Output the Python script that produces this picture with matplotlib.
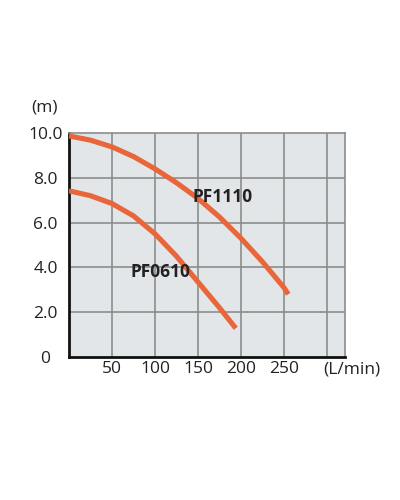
import matplotlib
matplotlib.use("Agg")
import matplotlib.pyplot as plt

pf1110_x = [0, 25, 50, 75, 100, 125, 150, 175, 200, 225, 250, 255]
pf1110_y = [9.87, 9.68, 9.38, 8.95, 8.4, 7.78, 7.08, 6.25, 5.3, 4.25, 3.1, 2.8]
pf0610_x = [0, 25, 50, 75, 100, 125, 150, 175, 194]
pf0610_y = [7.42, 7.2, 6.85, 6.3, 5.5, 4.5, 3.35, 2.2, 1.28]
x_ticks = [50, 100, 150, 200, 250]
x_grid = [50, 100, 150, 200, 250, 300]
y_ticks = [0, 2, 4, 6, 8, 10]
y_labels = ["0", "2.0", "4.0", "6.0", "8.0", "10.0"]

plt.rcParams['font.family'] = ['Open Sans', 'DejaVu Sans']

fig = plt.figure(figsize=(4, 5), dpi=100)
ax = fig.add_axes([69/400, 1-357/500, 276/400, 224/500])
ax.set_facecolor('#e3e6e8')
ax.set_xlim(0, 321)
ax.set_ylim(0, 10)

for gx in x_grid:
    ax.axvline(gx, color='#8c8c8c', lw=1.2, zorder=1)
for gy in y_ticks[1:-1]:
    ax.axhline(gy, color='#8c8c8c', lw=1.2, zorder=1)

orange = '#e8663a'
ax.plot(pf1110_x, pf1110_y, color=orange, lw=3.7, solid_capstyle='butt',
        solid_joinstyle='round', zorder=3)
ax.plot(pf0610_x, pf0610_y, color=orange, lw=3.7, solid_capstyle='butt',
        solid_joinstyle='round', zorder=3)

ax.text(144, 7.14, "PF1110", fontsize=12.5, fontweight='bold', color='#222222',
        ha='left', va='center', zorder=4)
ax.text(71, 3.8, "PF0610", fontsize=12.5, fontweight='bold', color='#222222',
        ha='left', va='center', zorder=4)

for side in ['top', 'right']:
    ax.spines[side].set_color('#8c8c8c')
    ax.spines[side].set_linewidth(1.2)
for side in ['left', 'bottom']:
    ax.spines[side].set_color('#111111')
    ax.spines[side].set_linewidth(2)

ax.set_xticks(x_ticks)
ax.set_xticklabels([str(v) for v in x_ticks])
ax.set_yticks(y_ticks)
ax.set_yticklabels(y_labels)
ax.tick_params(length=0, labelsize=12.5, colors='#222222')
ax.tick_params(axis='x', pad=3)
ax.tick_params(axis='y', pad=17)
for lab in ax.get_yticklabels():
    lab.set_horizontalalignment('center')

ax.text(329, -0.22, "(L/min)", fontsize=12.5, color='#222222', ha='center', va='top',
        clip_on=False)
ax.text(-28, 11.16, "(m)", fontsize=12.5, color='#222222', ha='center', va='center',
        clip_on=False)

fig.savefig("out.png", dpi=100)
